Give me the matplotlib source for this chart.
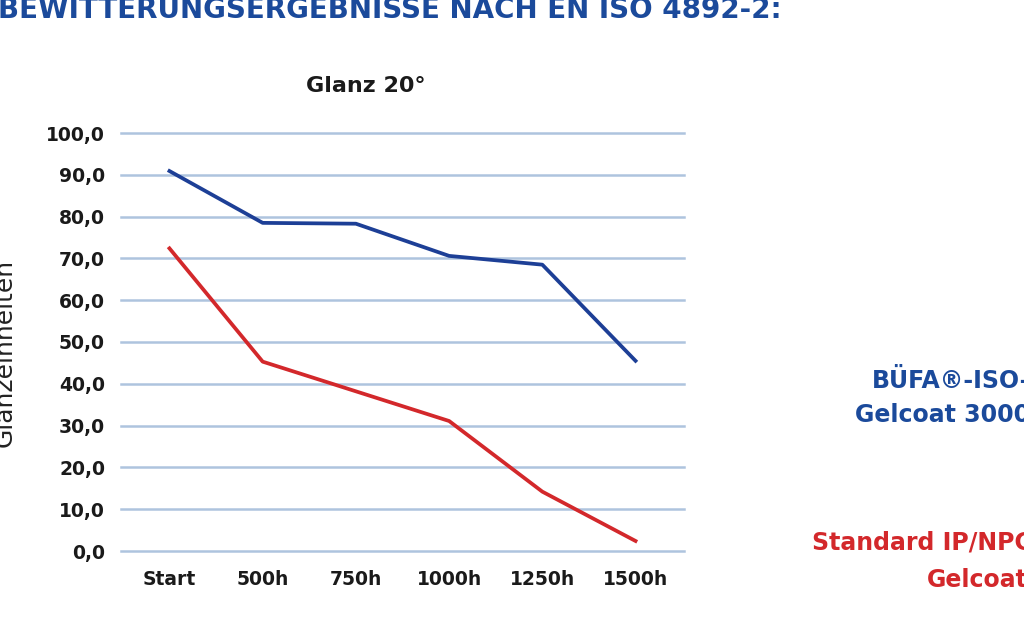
import matplotlib
matplotlib.use("Agg")
import matplotlib.pyplot as plt

# data
categories = ["Start", "500h", "750h", "1000h", "1250h", "1500h"]
buefa_values = [90.9, 78.5, 78.3, 70.6, 68.5, 45.5]
standard_values = [72.4, 45.3, 38.2, 31.1, 14.2, 2.4]
y_ticks = [0, 10, 20, 30, 40, 50, 60, 70, 80, 90, 100]

BLUE = "#1d3f96"
RED = "#d3282b"
TEXT_BLUE = "#1b4a9b"
GRID = "#aec4de"
DARK = "#1a1a1a"

plt.rcParams["font.family"] = ["DejaVu Sans"]

W, H = 1024, 625
fig = plt.figure(figsize=(W / 100, H / 100), dpi=100)
ax = fig.add_axes([121 / W, 1 - 551 / H, (684 - 121) / W, (551 - 133) / H])

x = list(range(len(categories)))
ax.plot(x, buefa_values, color=BLUE, lw=2.7, solid_joinstyle="round", zorder=3)
ax.plot(x, standard_values, color=RED, lw=2.7, solid_joinstyle="round", zorder=3)

ax.set_xlim(-0.52, len(categories) - 0.48)
ax.set_ylim(0, 100)
ax.set_yticks(y_ticks)
ax.set_yticklabels([f"{v:.1f}".replace(".", ",") for v in y_ticks],
                   fontsize=13.5, fontweight="bold", color=DARK)
ax.set_xticks(x)
ax.set_xticklabels(categories, fontsize=13.5, fontweight="bold", color=DARK)
ax.tick_params(length=0)
ax.tick_params(axis="x", pad=14)
ax.tick_params(axis="y", pad=11.5)

for v in y_ticks:
    ax.axhline(v, color=GRID, lw=1.8, zorder=1, clip_on=False)
for s in ax.spines.values():
    s.set_visible(False)

# y label, partly cut at the left edge like the reference
fig.text(17 / W, 1 - 353 / H, "Glanzeinheiten", fontsize=18, color="#222222",
         rotation=90, ha="right", va="center")

fig.text(366 / W, 1 - 92 / H, "Glanz 20°", fontsize=16, fontweight="bold",
         color=DARK, ha="center", va="baseline")

fig.text(-0.002, 1 - 18 / H, "BEWITTERUNGSERGEBNISSE NACH EN ISO 4892-2:",
         fontsize=20, fontweight="bold", color=TEXT_BLUE, va="baseline")

# legend texts, running off the right edge
fig.text(872 / W, 1 - 388 / H, "BÜFA®-ISO-", fontsize=17, fontweight="bold",
         color=TEXT_BLUE, va="baseline")
fig.text(855 / W, 1 - 422 / H, "Gelcoat 3000", fontsize=17, fontweight="bold",
         color=TEXT_BLUE, va="baseline")
fig.text(812 / W, 1 - 550 / H, "Standard IP/NPG-", fontsize=17, fontweight="bold",
         color=RED, va="baseline")
fig.text(927 / W, 1 - 587 / H, "Gelcoat", fontsize=17, fontweight="bold",
         color=RED, va="baseline")

fig.savefig("out.png", dpi=100)
